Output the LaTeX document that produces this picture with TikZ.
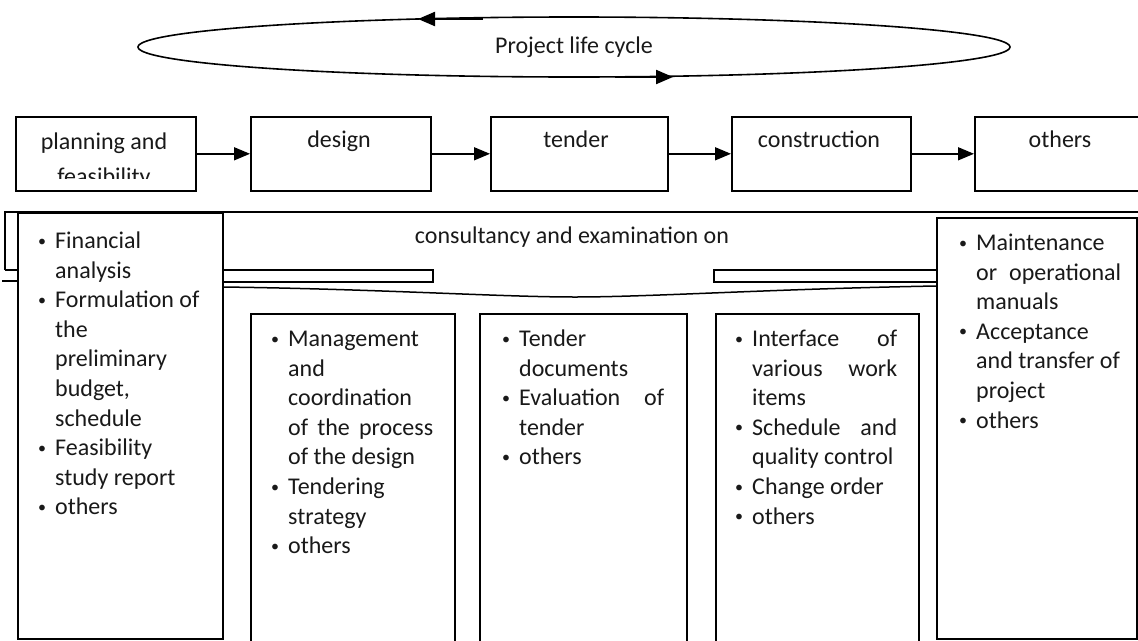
\documentclass[tikz,border=0pt]{standalone}
\usepackage{fontspec}
\setmainfont{Carlito}
\usetikzlibrary{arrows.meta,shapes.geometric}

% bullet, continuation indent and a justified line for the item lists
\newcommand\bl{\makebox[18pt][l]{\hspace*{1pt}{\fontsize{16}{16}\selectfont\raisebox{2.5pt}{\textbullet}}}}
\newcommand\ct{\hspace*{18pt}}
\newcommand\jl[1]{\makebox[145pt][s]{#1}}
\newcommand\lst[1]{\parbox[t]{170pt}{\fontsize{24}{29.6}\selectfont\raggedright #1}}

\begin{document}
\begin{tikzpicture}[x=1pt,y=-1pt,
  every node/.style={text=black!90},
  frame/.style={draw, fill=white, line width=1.6pt, inner sep=0, anchor=north west},
  txt/.style={inner sep=0, font=\fontsize{24}{29.3}\selectfont},
  flow/.style={-{Triangle[length=16pt,width=13pt]}, line width=1.6pt},
  cyc/.style={-{Triangle[length=17pt,width=14pt]}, line width=2.2pt},
  band/.style={line width=1.5pt},
]
\useasboundingbox (0,0) rectangle (1138,640);
\clip (0,0) rectangle (1138,640);

% project life cycle loop
\node[ellipse, draw, line width=1.6pt, minimum width=872pt, minimum height=60pt, inner sep=0,
      font=\fontsize{24}{29}\selectfont] (cycle) at (574,47) {Project life cycle};
\coordinate (topS) at (483,19);
\coordinate (topE) at (418,19);
\coordinate (botS) at (615,77);
\coordinate (botE) at (673,77);
\draw[cyc] (topS) -- (topE);
\draw[cyc] (botS) -- (botE);

% phases
\node[frame, minimum width=180pt, minimum height=74pt] (b1) at (15,116) {};
\node[frame, minimum width=180pt, minimum height=74pt] (b2) at (250,116) {};
\node[frame, minimum width=177pt, minimum height=74pt] (b3) at (490,116) {};
\node[frame, minimum width=179pt, minimum height=74pt] (b4) at (731,116) {};
\node[frame, minimum width=172pt, minimum height=74pt] (b5) at (974,116) {};

\node[txt, anchor=base] (b1t) at (104,149) {planning and};
\begin{scope}
  \clip (15,116) rectangle (195,178);
  \node[txt, anchor=base] (b1u) at (104,184) {feasibility};
\end{scope}
\node[txt, anchor=base] (b2t) at (339,147) {design};
\node[txt, anchor=base] (b3t) at (576,147) {tender};
\node[txt, anchor=base] (b4t) at (819,147) {construction};
\node[txt, anchor=base] (b5t) at (1060,147) {others};

\draw[flow] (b1.east) -- (b2.west);
\draw[flow] (b2.east) -- (b3.west);
\draw[flow] (b3.east) -- (b4.west);
\draw[flow] (b4.east) -- (b5.west);

% consultancy band with its pointed lower edge
\draw[band] (5,270) -- (5,212) -- (1146,212);
\draw[band] (5,270) -- (17,270);
\draw[band] (2,281) -- (17,281);
\draw[band] (222,270) -- (433,270) -- (433,282) -- (222,282);
\draw[band] (936,270) -- (714,270) -- (714,282) -- (936,282);
\draw[band] (222,287) .. controls (380,289) and (500,297) .. (575,297)
                      .. controls (650,297) and (770,289) .. (936,286);
\node[txt, anchor=base] (band) at (572,243) {consultancy and examination on};

% task columns
\node[frame, minimum width=205pt, minimum height=426pt] (c1) at (17,212) {};
\node[frame, minimum width=204pt, minimum height=345pt] (c2) at (250,313) {};
\node[frame, minimum width=207pt, minimum height=345pt] (c3) at (479,313) {};
\node[frame, minimum width=203pt, minimum height=345pt] (c4) at (715,313) {};
\node[frame, minimum width=200pt, minimum height=421pt] (c5) at (936,217) {};

\node[inner sep=0, anchor=base west] (l1) at (37,248.5) {\lst{%
\bl Financial\\
\ct analysis\\
\bl Formulation of\\
\ct the\\
\ct preliminary\\
\ct budget,\\
\ct schedule\\
\bl Feasibility\\
\ct study report\\
\bl others}};

\node[inner sep=0, anchor=base west] (l2) at (270,346.5) {\lst{%
\bl Management\\
\ct and\\
\ct coordination\\
\ct\jl{of the process}\\
\ct of the design\\
\bl Tendering\\
\ct strategy\\
\bl others}};

\node[inner sep=0, anchor=base west] (l3) at (501,346.5) {\lst{%
\bl Tender\\
\ct documents\\
\bl\jl{Evaluation of}\\
\ct tender\\
\bl others}};

\node[inner sep=0, anchor=base west] (l4) at (734,346.5) {\lst{%
\bl\jl{Interface of}\\
\ct\jl{various work}\\
\ct items\\
\bl\jl{Schedule and}\\
\ct quality control\\
\bl Change order\\
\bl others}};

\node[inner sep=0, anchor=base west] (l5) at (958,250.5) {\lst{%
\bl Maintenance\\
\ct\jl{or operational}\\
\ct manuals\\
\bl Acceptance\\
\ct and transfer of\\
\ct project\\
\bl others}};
\end{tikzpicture}
\end{document}
